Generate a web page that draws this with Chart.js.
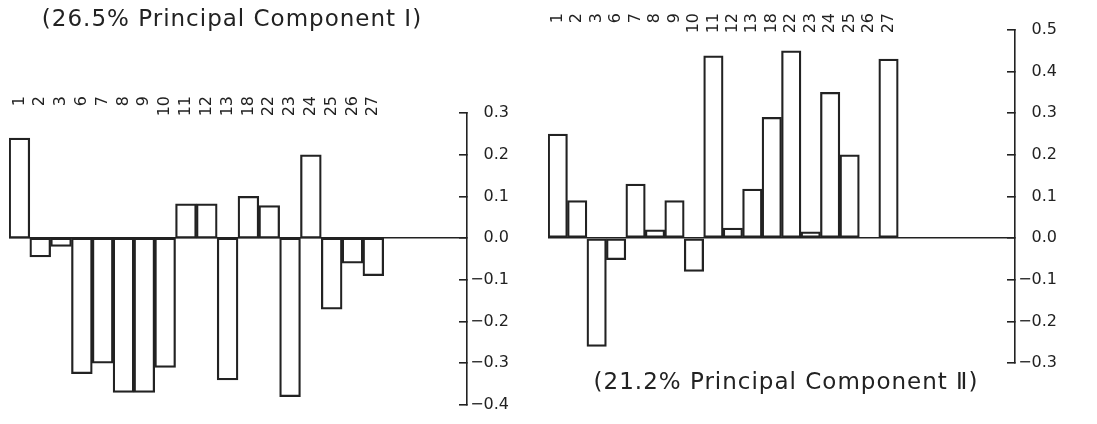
<!DOCTYPE html>
<html lang="en">
<head>
<meta charset="UTF-8">
<title>Principal Components I and II</title>
<script src="https://cdn.jsdelivr.net/npm/chart.js"></script>
<style>
  body { margin: 0; background: #fff; font-family: "DejaVu Sans", sans-serif; }
  #wrap { position: relative; width: 1097px; height: 424px; overflow: hidden; }
  canvas { position: absolute; top: 0; }
  .title { position: absolute; font-size: 23px; letter-spacing: 1px; color: #222; white-space: nowrap; transform: translate(-50%, -50%); }
</style>
</head>
<body>
<div id="wrap">
  <canvas id="pc1" width="530" height="424" style="left:0"></canvas>
  <canvas id="pc2" width="567" height="424" style="left:530px"></canvas>
  <div class="title" style="left:232px; top:18px">(26.5% Principal Component Ⅰ)</div>
  <div class="title" style="left:786px; top:381px">(21.2% Principal Component Ⅱ)</div>
</div>

<script>
  // variable numbers along the top
  const categories = ['1', '2', '3', '6', '7', '8', '9', '10', '11', '12', '13', '18', '22', '23', '24', '25', '26', '27'];

  // loadings
  const pc1Values = [0.24, -0.045, -0.02, -0.325, -0.30, -0.37, -0.37, -0.31, 0.082, 0.082, -0.34, 0.10, 0.078, -0.38, 0.20, -0.17, -0.06, -0.09];
  const pc2Values = [0.25, 0.09, -0.26, -0.052, 0.13, 0.02, 0.09, -0.08, 0.438, 0.024, 0.118, 0.29, 0.45, 0.015, 0.35, 0.20, 0, 0.43];

  const ink = '#222';
  const family = '"DejaVu Sans", sans-serif';

  function fmt(v) {
    const s = Math.abs(v).toFixed(1);
    return v < -1e-9 ? '\u2212' + s : s;
  }

  // rotated category labels, top ends lined up (Chart.js lines up the bottom ends)
  const topLabels = {
    id: 'topLabels',
    afterDraw(chart, args, opts) {
      const xs = chart.scales.x;
      const ctx = chart.ctx;
      ctx.save();
      ctx.fillStyle = ink;
      ctx.font = '16px ' + family;
      ctx.textAlign = 'right';
      ctx.textBaseline = 'middle';
      categories.forEach((c, i) => {
        ctx.save();
        ctx.translate(xs.getPixelForValue(i), opts.top);
        ctx.rotate(-Math.PI / 2);
        ctx.fillText(c, 0, 0);
        ctx.restore();
      });
      ctx.restore();
    }
  };

  function makeChart(id, values, blanks, yMin, yMax, pad, topH, axisW, labelTop) {
    const labels = categories.concat(Array(blanks).fill(''));
    return new Chart(document.getElementById(id), {
      type: 'bar',
      data: {
        labels: labels,
        datasets: [{
          data: values,
          backgroundColor: 'rgba(255,255,255,0)',
          borderColor: ink,
          borderWidth: 1.6,
          borderSkipped: false,
          categoryPercentage: 1,
          barPercentage: 1
        }]
      },
      plugins: [topLabels],
      options: {
        responsive: false,
        animation: false,
        layout: { padding: pad },
        plugins: {
          legend: { display: false },
          tooltip: { enabled: false },
          topLabels: { top: labelTop }
        },
        scales: {
          x: {
            position: 'top',
            grid: { display: false },
            border: { display: false },
            ticks: { display: false },
            afterFit: s => { s.height = topH; }
          },
          y: {
            position: 'right',
            min: yMin,
            max: yMax,
            ticks: {
              stepSize: 0.1,
              crossAlign: 'far',
              color: ink,
              font: { family: family, size: 16 },
              callback: v => fmt(v)
            },
            grid: {
              color: c => Math.abs(c.tick.value) < 1e-9 ? ink : 'rgba(0,0,0,0)',
              lineWidth: 1.6,
              tickColor: ink,
              tickWidth: 1.6,
              tickLength: -8
            },
            border: { display: true, color: ink, width: 1.6 },
            afterFit: s => { s.width = axisW; }
          }
        }
      }
    });
  }

  makeChart('pc1', pc1Values, 4, -0.4, 0.3, { left: 9, right: 21, top: 0, bottom: 19 }, 113, 42, 96);
  makeChart('pc2', pc2Values, 6, -0.3, 0.5, { left: 18, right: 40, top: 0, bottom: 61 }, 30, 42, 13);
</script>
</body>
</html>
